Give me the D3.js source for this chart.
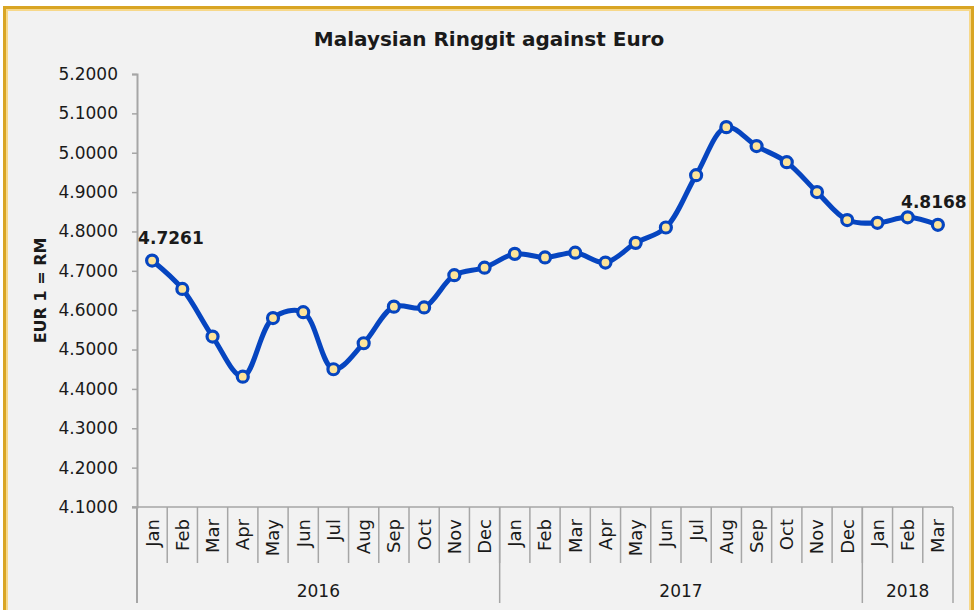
<!DOCTYPE html>
<html>
<head>
<meta charset="utf-8">
<script src="https://cdn.jsdelivr.net/npm/d3@7"></script>
<style>
  body { margin: 0; background: #ffffff; }
  svg text { font-family: "DejaVu Sans", sans-serif; fill: #1a1a1a; }
  .axis-labels { font-weight: bold; }
</style>
</head>
<body>
<svg id="chart" width="978" height="610"></svg>
<script>
"use strict";

const MONTHS = ['Jan', 'Feb', 'Mar', 'Apr', 'May', 'Jun', 'Jul', 'Aug', 'Sep', 'Oct', 'Nov', 'Dec',
                'Jan', 'Feb', 'Mar', 'Apr', 'May', 'Jun', 'Jul', 'Aug', 'Sep', 'Oct', 'Nov', 'Dec',
                'Jan', 'Feb', 'Mar'];
const YEARS = ['2016', '2017', '2018'];
const YEAR_MONTHS = [12, 12, 3];
const RATES = [4.7261, 4.654, 4.533, 4.431, 4.580, 4.595, 4.450, 4.516, 4.609, 4.607, 4.689, 4.708,
               4.743, 4.734, 4.746, 4.721, 4.771, 4.810, 4.943, 5.065, 5.017, 4.976, 4.900, 4.829,
               4.822, 4.836, 4.8168];
const Y_TICKS = [4.1, 4.2, 4.3, 4.4, 4.5, 4.6, 4.7, 4.8, 4.9, 5.0, 5.1, 5.2];
const LABELLED = [0, 26];

const TITLE = "Malaysian Ringgit against Euro";
const Y_LABEL = "EUR 1 = RM";
const plot = { top: 74, left: 137, right: 953, bottom: 507 };
const LINE_BLUE = "#0645c0";
const AXIS_GREY = "#a6a6a6";

window.addEventListener("load", drawChart);

function drawChart() {
    const svg = d3.select("svg#chart");

    // frame
    svg.append("rect")
        .attr("x", 4.5).attr("y", 7.5).attr("width", 968).attr("height", 610)
        .attr("fill", "#f2f2f2")
        .attr("stroke", "#d9a523").attr("stroke-width", 3);
    svg.append("rect")
        .attr("x", 7).attr("y", 10).attr("width", 963).attr("height", 610)
        .attr("fill", "none")
        .attr("stroke", "#f7d88a").attr("stroke-width", 2);

    let keys = MONTHS.map((m, i) => i);
    let x = d3.scaleBand()
        .domain(keys)
        .range([plot.left, plot.right]);
    let y = d3.scaleLinear()
        .domain([4.1, 5.2])
        .range([plot.bottom, plot.top]);

    // y axis
    let yAxis = svg.append("g")
        .attr("transform", `translate(${plot.left}, 0)`)
        .call(d3.axisLeft(y).tickValues(Y_TICKS).tickFormat(d3.format(".4f")).tickSize(5).tickPadding(14));
    yAxis.select(".domain").attr("stroke", AXIS_GREY).attr("stroke-width", 2);
    yAxis.selectAll(".tick line").attr("stroke", AXIS_GREY).attr("stroke-width", 1.5);
    yAxis.selectAll(".tick text")
        .style("font-size", "17px")
        .style("font-family", "'DejaVu Sans', sans-serif")
        .attr("fill", "#262626");

    // x axis (two level categories)
    let xAxis = svg.append("g").attr("class", "x-axis");
    xAxis.append("line")
        .attr("x1", plot.left - 5).attr("x2", plot.right)
        .attr("y1", plot.bottom).attr("y2", plot.bottom)
        .attr("stroke", AXIS_GREY).attr("stroke-width", 1.5);

    let yearStart = [];
    let acc = 0;
    YEAR_MONTHS.forEach(n => { yearStart.push(acc); acc += n; });

    xAxis.selectAll("line.month-sep")
        .data(keys.slice(1))
        .join("line")
        .attr("class", "month-sep")
        .attr("x1", d => x(d)).attr("x2", d => x(d))
        .attr("y1", plot.bottom).attr("y2", 563)
        .attr("stroke", AXIS_GREY).attr("stroke-width", 1.5);

    let yearEdges = yearStart.map(i => x(i)).concat([plot.right]);
    xAxis.selectAll("line.year-sep")
        .data(yearEdges)
        .join("line")
        .attr("class", "year-sep")
        .attr("x1", d => d).attr("x2", d => d)
        .attr("y1", plot.bottom).attr("y2", 603)
        .attr("stroke", AXIS_GREY).attr("stroke-width", d => (d == plot.left ? 2 : 1.5));

    xAxis.selectAll("text.month")
        .data(keys)
        .join("text")
        .attr("class", "month")
        .attr("transform", d => `translate(${x(d) + x.bandwidth() / 2}, 519) rotate(-90)`)
        .attr("dy", "0.36em")
        .attr("text-anchor", "end")
        .style("font-size", "18px")
        .attr("fill", "#262626")
        .text(d => MONTHS[d]);

    xAxis.selectAll("text.year")
        .data(YEARS)
        .join("text")
        .attr("class", "year")
        .attr("x", (d, i) => (yearEdges[i] + yearEdges[i + 1]) / 2)
        .attr("y", 597)
        .attr("text-anchor", "middle")
        .style("font-size", "17px")
        .attr("fill", "#262626")
        .text(d => d);

    // titles
    svg.append("text")
        .attr("class", "axis-labels")
        .attr("x", 489).attr("y", 46)
        .attr("text-anchor", "middle")
        .style("font-size", "20px")
        .attr("fill", "#000")
        .text(TITLE);
    svg.append("text")
        .attr("class", "axis-labels")
        .attr("transform", `translate(46, ${(plot.top + plot.bottom) / 2}) rotate(-90)`)
        .attr("text-anchor", "middle")
        .style("font-size", "16px")
        .attr("fill", "#000")
        .text(Y_LABEL);

    // line
    let cx = i => x(i) + x.bandwidth() / 2;
    let line = d3.line()
        .x((d, i) => cx(i))
        .y(d => y(d))
        .curve(d3.curveCatmullRom.alpha(0.5));
    svg.append("path")
        .datum(RATES)
        .attr("d", line)
        .attr("fill", "none")
        .attr("stroke", LINE_BLUE)
        .attr("stroke-width", 5)
        .attr("stroke-linejoin", "round");

    svg.selectAll("circle.marker")
        .data(RATES)
        .join("circle")
        .attr("class", "marker")
        .attr("cx", (d, i) => cx(i))
        .attr("cy", d => y(d))
        .attr("r", 5.5)
        .attr("fill", "#fde49a")
        .attr("stroke", LINE_BLUE)
        .attr("stroke-width", 3.2);

    // data labels
    svg.selectAll("text.data-label")
        .data(LABELLED)
        .join("text")
        .attr("class", "data-label axis-labels")
        .attr("x", i => (i == 0 ? cx(i) - 14 : cx(i) - 4))
        .attr("y", i => y(RATES[i]) - 17)
        .attr("text-anchor", i => (i == 0 ? "start" : "middle"))
        .style("font-size", "17px")
        .attr("fill", "#000")
        .text(i => d3.format(".4f")(RATES[i]));
}
</script>
</body>
</html>
